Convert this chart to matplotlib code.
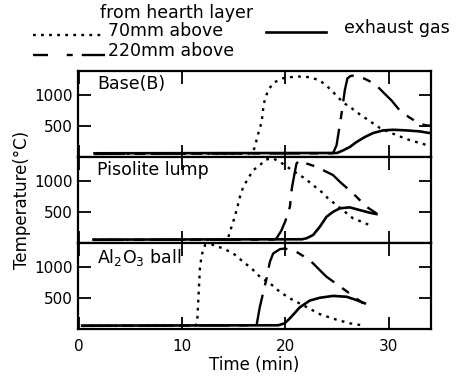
import matplotlib
matplotlib.use("Agg")
import matplotlib.pyplot as plt

plt.rcParams['font.family'] = ['DejaVu Sans']
plt.rcParams['lines.scale_dashes'] = False

# time (min) / temperature (deg C)
panel_names = ["Base(B)", "Pisolite lump", "Al$_2$O$_3$ ball"]

base_t_70 = [1.5, 16.7, 17.0, 17.36, 17.69, 17.84, 18.01, 18.33, 18.81, 19.78, 21.07, 22.36, 23.33,
             24.13, 24.78, 25.59, 26.4, 27.2, 28.17, 29.14, 30.43, 31.72, 33.0, 33.8, 34.1]
base_y_70 = [50, 55, 145, 376, 565, 779, 940, 1076, 1198, 1274, 1302, 1290, 1237,
             1129, 1021, 880, 790, 690, 580, 470, 376, 290, 226, 189, 180]
base_t_220 = [1.5, 24.6, 24.95, 25.43, 25.75, 26.0, 26.3, 26.72, 27.69, 28.66, 29.62, 30.27,
              31.07, 32.0, 33.0, 33.66, 34.1]
base_y_220 = [50, 60, 189, 698, 1080, 1270, 1310, 1318, 1263, 1182, 1021, 915,
              753, 640, 537, 511, 505]
base_t_gas = [1.5, 25.0, 25.59, 26.23, 26.88, 27.69, 28.49, 29.46, 30.43, 31.72, 33.0, 33.8, 34.1]
base_y_gas = [60, 65, 108, 161, 242, 323, 387, 430, 440, 430, 414, 392, 385]

pis_t_70 = [1.4, 14.4, 14.62, 14.94, 15.27, 15.59, 15.91, 16.39, 16.87, 17.52, 18.1, 18.81,
            19.46, 20.11, 20.59, 21.88, 22.68, 23.49, 24.13, 24.95, 25.75, 26.55, 27.37, 28.33]
pis_y_70 = [50, 55, 182, 344, 532, 747, 908, 1044, 1177, 1258, 1350, 1366,
            1311, 1240, 1180, 1044, 935, 827, 721, 613, 505, 398, 344, 275]
pis_t_220 = [1.4, 18.9, 19.14, 19.6, 20.0, 20.43, 20.62, 20.91, 21.07, 21.39, 22.04, 23.0,
             24.62, 25.27, 26.55, 27.85, 28.82]
pis_y_220 = [50, 55, 76, 200, 360, 585, 887, 1150, 1286, 1339, 1286, 1231,
             1097, 989, 802, 585, 479]
pis_t_gas = [1.4, 21.6, 22.04, 22.68, 23.33, 23.98, 24.62, 25.27, 26.23, 27.2, 28.17, 28.82]
pis_y_gas = [55, 60, 76, 129, 263, 424, 505, 560, 576, 532, 489, 468]

al_t_70 = [0.3, 11.3, 11.45, 11.71, 11.88, 12.2, 12.85, 13.97, 14.94, 15.91, 16.72, 17.52,
           18.49, 19.46, 20.43, 22.04, 23.33, 24.95, 26.23, 27.69]
al_y_70 = [50, 55, 118, 979, 1194, 1355, 1366, 1302, 1221, 1086, 979, 844,
           740, 600, 495, 355, 240, 150, 92, 53]
al_t_220 = [0.3, 17.2, 17.52, 18.17, 18.49, 18.81, 19.46, 19.94, 21.07, 22.36, 23.49, 23.98,
            25.1, 27.52]
al_y_220 = [50, 60, 360, 818, 1086, 1221, 1290, 1302, 1247, 1113, 924, 844, 710, 415]
al_t_gas = [0.3, 19.3, 19.9, 20.43, 21.39, 22.36, 23.33, 24.62, 25.92, 26.88, 27.69]
al_y_gas = [55, 60, 90, 173, 350, 460, 505, 535, 521, 468, 415]

panels = [
    (base_t_70, base_y_70, base_t_220, base_y_220, base_t_gas, base_y_gas),
    (pis_t_70, pis_y_70, pis_t_220, pis_y_220, pis_t_gas, pis_y_gas),
    (al_t_70, al_y_70, al_t_220, al_y_220, al_t_gas, al_y_gas),
]

dot_style = dict(color='black', lw=1.7, linestyle=(0, (2.0, 3.8)))
dash_style = dict(color='black', lw=1.7, linestyle=(0, (22, 7, 6, 7)))
solid_style = dict(color='black', lw=1.9)

W, H = 458, 376
fig = plt.figure(figsize=(W / 100, H / 100), dpi=100)

left, right = 78, 431
rows = [(71, 157), (157, 243), (243, 329)]
axes = []
for i, (top, bot) in enumerate(rows):
    ax = fig.add_axes([left / W, 1 - bot / H, (right - left) / W, (bot - top) / H])
    t70, y70, t220, y220, tg, yg = panels[i]
    ax.plot(t70, y70, **dot_style)
    ax.plot(t220, y220, **dash_style)
    ax.plot(tg, yg, **solid_style)
    ax.set_xlim(-0.1, 34.1)
    ax.set_ylim(0, 1390)
    ax.set_yticks([500, 1000])
    ax.set_xticks([0, 10, 20, 30])
    ax.tick_params(direction='in', length=9, width=1.3, top=True, right=True,
                   labelsize=11, pad=4)
    for s in ax.spines.values():
        s.set_linewidth(1.6)
    if i < 2:
        ax.tick_params(labelbottom=False)
    ax.text(0.054, 0.95, panel_names[i], transform=ax.transAxes, fontsize=12.5,
            ha='left', va='top')
    axes.append(ax)

axes[-1].tick_params(axis='x', pad=7)
axes[-1].set_xlabel('Time (min)', fontsize=12, labelpad=2)
fig.text(22 / W, 1 - 200 / H, 'Temperature(°C)', rotation=90, fontsize=12,
         ha='center', va='center')

# legend drawn by hand above the panels
ov = fig.add_axes([0, 0, 1, 1])
ov.set_xlim(0, W)
ov.set_ylim(H, 0)
ov.axis('off')
ov.plot([33, 102], [35, 35], **dot_style)
ov.plot([33, 105], [55, 55], color='black', lw=1.7,
        linestyle=(0, (10.8, 13.5, 4.3, 6.5, 17, 20)))
ov.plot([266, 326], [32, 32], **solid_style)
ov.text(100, 18, 'from hearth layer', fontsize=12.5, va='baseline')
ov.text(108, 36, '70mm above', fontsize=12.5, va='baseline')
ov.text(108, 56, '220mm above', fontsize=12.5, va='baseline')
ov.text(344, 33, 'exhaust gas', fontsize=12.5, va='baseline')

fig.savefig('out.png', dpi=100)
